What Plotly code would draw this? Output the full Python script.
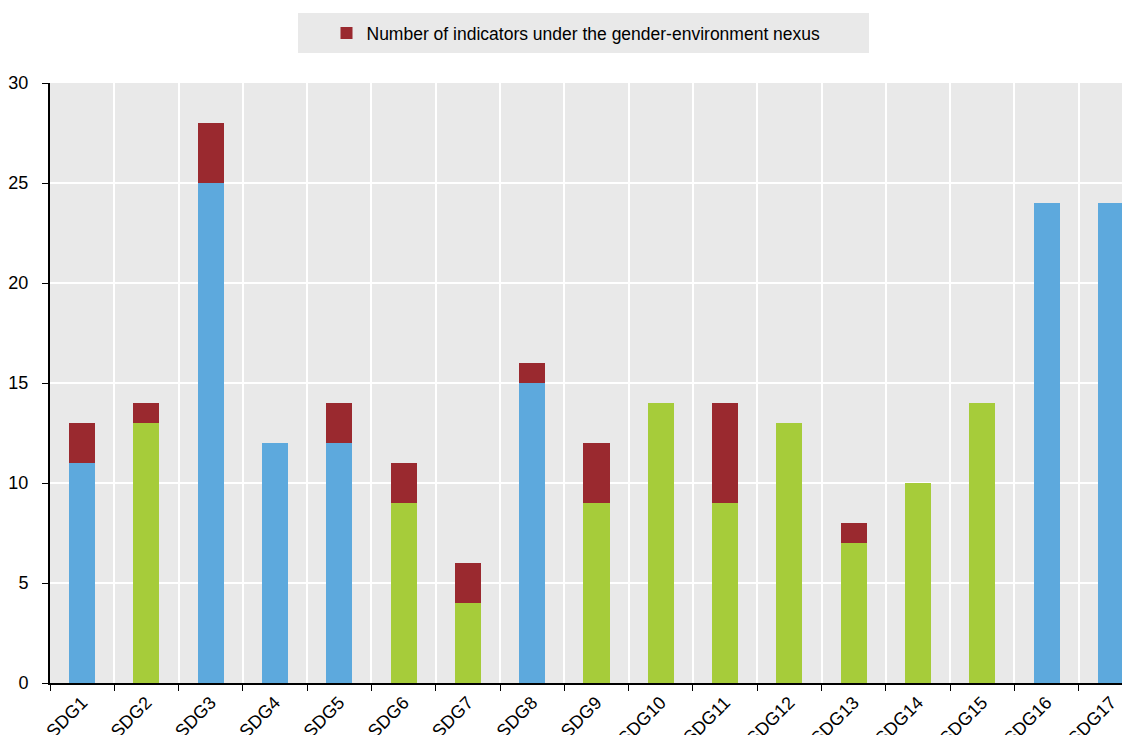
import plotly.graph_objects as go

# SDG categories
sdgs = ['SDG1', 'SDG2', 'SDG3', 'SDG4', 'SDG5', 'SDG6', 'SDG7', 'SDG8', 'SDG9',
        'SDG10', 'SDG11', 'SDG12', 'SDG13', 'SDG14', 'SDG15', 'SDG16', 'SDG17']

# other indicators (base of each bar) and which colour group it belongs to
base_values = [11, 13, 25, 12, 12, 9, 4, 15, 9, 14, 9, 13, 7, 10, 14, 24, 24]
base_group = ['blue', 'green', 'blue', 'blue', 'blue', 'green', 'green', 'blue', 'green',
              'green', 'green', 'green', 'green', 'green', 'green', 'blue', 'blue']

# indicators under the gender-environment nexus (red top)
nexus_values = [2, 1, 3, 0, 2, 2, 2, 1, 3, 0, 5, 0, 1, 0, 0, 0, 0]

group_colors = {'blue': '#5DA9DD', 'green': '#A6CC3A'}

# the page body has an 8px margin; the plot runs slightly past the right edge
W, H = 1137, 727
L, T, R, B = 42, 75, 2, 52
pw, ph = W - L - R, H - T - B

fig = go.Figure()

fig.add_trace(go.Bar(
    x=sdgs, y=base_values,
    marker=dict(color=[group_colors[g] for g in base_group], line=dict(width=0)),
    width=0.405, showlegend=False, name='Other indicators'
))

fig.add_trace(go.Bar(
    x=sdgs, y=nexus_values,
    marker=dict(color='#9A292F', line=dict(width=0)),
    width=0.405, name='Number of indicators under the gender-environment nexus'
))

# grey box behind the legend (page px -> paper coords)
fig.add_shape(type='rect', xref='paper', yref='paper',
              x0=(298 - 8 - L) / pw, x1=(869 - 8 - L) / pw,
              y0=(H - B - (53 - 8)) / ph, y1=(H - B - (13 - 8)) / ph,
              fillcolor='#E9E9E9', line=dict(width=0), layer='below')

fig.update_layout(
    barmode='stack',
    width=W, height=H,
    margin=dict(l=L, r=R, t=T, b=B),
    paper_bgcolor='white',
    plot_bgcolor='#E9E9E9',
    font=dict(family='Liberation Sans, Arial', size=17, color='black'),
    legend=dict(
        orientation='h', x=(576 - 8 - L) / pw, xanchor='center',
        yref='container', y=1 - 25 / H, yanchor='middle',
        bgcolor='rgba(0,0,0,0)', font=dict(size=17.5),
        itemwidth=30,
    ),
    xaxis=dict(
        showgrid=True, gridcolor='white', gridwidth=2,
        tickson='boundaries', ticks='outside', ticklen=6, tickcolor='black',
        showline=True, linecolor='black', linewidth=2,
        tickangle=-45, tickfont=dict(size=18), automargin=False,
    ),
    yaxis=dict(
        range=[0, 30], dtick=5,
        showgrid=True, gridcolor='white', gridwidth=2,
        ticks='outside', ticklen=6, tickcolor='black',
        showline=True, linecolor='black', linewidth=2,
        zeroline=False, tickfont=dict(size=18), automargin=False,
        ticklabelstandoff=10,
    ),
)

fig.write_html("out.html")
